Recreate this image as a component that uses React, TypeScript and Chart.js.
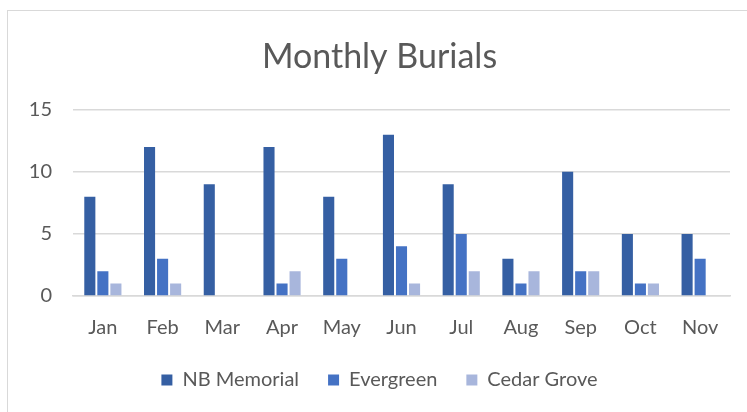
import React, { useEffect, useRef } from "react";
import { Chart, registerables } from "chart.js";

Chart.register(...registerables);

const categories = ["Jan", "Feb", "Mar", "Apr", "May", "Jun", "Jul", "Aug", "Sep", "Oct", "Nov"];
const nbMemorial = [8, 12, 9, 12, 8, 13, 9, 3, 10, 5, 5];
const evergreen = [2, 3, 0, 1, 3, 4, 5, 1, 2, 1, 3];
const cedarGrove = [1, 1, 0, 2, 0, 1, 2, 2, 2, 1, 0];
const yTicks = [0, 5, 10, 15];

const FONT = "Lato, 'Open Sans', sans-serif";
const TEXT = "#595959";

export default function App() {
  const ref = useRef<HTMLCanvasElement>(null);
  useEffect(() => {
    if (!ref.current) return;
    const chart = new Chart(ref.current, {
      type: "bar",
      data: {
        labels: categories,
        datasets: [
          { label: "NB Memorial", data: nbMemorial, backgroundColor: "#355fa3" },
          { label: "Evergreen", data: evergreen, backgroundColor: "#4472c4" },
          { label: "Cedar Grove", data: cedarGrove, backgroundColor: "#a8b6dc" },
        ],
      },
      options: {
        animation: false,
        responsive: false,
        maintainAspectRatio: false,
        layout: { padding: { left: 29, right: 17, top: 0, bottom: 12 } },
        datasets: { bar: { categoryPercentage: 0.655, barPercentage: 0.85 } },
        plugins: {
          title: {
            display: true,
            text: "Monthly Burials",
            color: TEXT,
            font: { family: FONT, size: 34, weight: "normal" },
            padding: { top: 37, bottom: 32 },
          },
          legend: {
            position: "bottom",
            labels: {
              color: TEXT,
              font: { family: FONT, size: 20 },
              boxWidth: 11,
              boxHeight: 11,
              padding: 29,
            },
          },
          tooltip: { enabled: false },
        },
        scales: {
          x: {
            grid: { display: false },
            border: { color: "#d9d9d9", width: 1.5 },
            ticks: { color: TEXT, font: { family: FONT, size: 20 }, padding: 12 },
            afterFit: (s: any) => {
              s.height = s.height - 11;
            },
          },
          y: {
            min: 0,
            max: 15,
            afterBuildTicks: (s: any) => {
              s.ticks = yTicks.map((v) => ({ value: v }));
            },
            afterFit: (s: any) => {
              s.width = 44;
            },
            grid: { color: "#d9d9d9", lineWidth: 1.5, drawTicks: false },
            border: { display: false },
            ticks: { color: TEXT, font: { family: FONT, size: 20 }, padding: 21 },
          },
        },
      },
    });
    return () => chart.destroy();
  }, []);
  return (
    <div style={{ position: "absolute", left: 0, top: 0, width: 747, height: 412, background: "#fff" }}>
      <div
        style={{
          position: "absolute",
          left: 7,
          top: 10,
          width: 745,
          height: 410,
          border: "1px solid #d9d9d9",
          boxSizing: "border-box",
        }}
      />
      <canvas ref={ref} width={747} height={412} style={{ position: "absolute", left: 0, top: 0 }} />
    </div>
  );
}
